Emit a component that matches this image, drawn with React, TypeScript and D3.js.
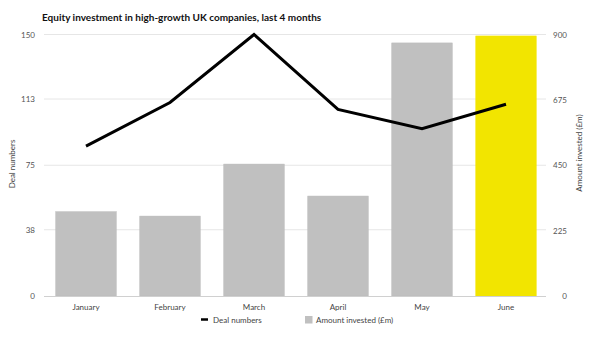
import React from "react";
import * as d3 from "d3";

const months = ["January", "February", "March", "April", "May", "June"];
const amountInvested = [290, 275, 454, 344, 871, 895];
const dealNumbers = [86, 111, 150, 107, 96, 110];
const leftTicks = [0, 38, 75, 113, 150];
const rightTicks = [0, 225, 450, 675, 900];
const barColors = ["#c0c0c0", "#c0c0c0", "#c0c0c0", "#c0c0c0", "#c0c0c0", "#f2e500"];

const W = 600, H = 339;
const FONT = "'Source Sans Pro', Lato, 'Open Sans', sans-serif";

export default function App() {
  const x = d3.scaleBand<string>().domain(months).range([44, 548]).paddingInner(0.28).paddingOuter(0.14);
  const yL = d3.scaleLinear().domain([0, 150]).range([296, 34.5]);
  const yR = d3.scaleLinear().domain([0, 900]).range([296, 34.5]);
  const line = d3.line<number>()
    .x((_, i) => (x(months[i]) as number) + x.bandwidth() / 2)
    .y((d) => yL(d));

  return (
    <svg width={W} height={H} style={{ position: "absolute", left: 0, top: 0, fontFamily: FONT }}>
      <rect width={W} height={H} fill="#fff" />
      <text x={42} y={21} fontSize={10} fontWeight="bold" fill="#111">
        Equity investment in high-growth UK companies, last 4 months
      </text>
      {leftTicks.map((t) => (
        <g key={"g" + t}>
          {t !== 0 && <line x1={44} x2={546} y1={yL(t)} y2={yL(t)} stroke="#e6e6e6" strokeWidth={1} />}
          <text x={35} y={yL(t) + 3} fontSize={8} fill="#555" textAnchor="end">{t}</text>
        </g>
      ))}
      {rightTicks.map((t) => (
        <text key={"r" + t} x={567} y={yR(t) + 3} fontSize={8} fill="#555" textAnchor="end">{t}</text>
      ))}
      <text transform={`translate(15,164) rotate(-90)`} fontSize={8} fill="#444" textAnchor="middle">Deal numbers</text>
      <text transform={`translate(582,153) rotate(-90)`} fontSize={8} fill="#444" textAnchor="middle">Amount invested (£m)</text>
      {months.map((m, i) => (
        <rect key={m} x={x(m)} y={yR(amountInvested[i])} width={x.bandwidth()} height={296 - yR(amountInvested[i])}
          fill={barColors[i]} stroke={i === 5 ? "#f2e500" : "#b8b8b8"} strokeWidth={0.5} />
      ))}
      <line x1={44} x2={546} y1={296.5} y2={296.5} stroke="#d0d0d0" strokeWidth={1} />
      {months.map((m) => (
        <text key={"l" + m} x={(x(m) as number) + x.bandwidth() / 2} y={310} fontSize={8} fill="#444" textAnchor="middle">{m}</text>
      ))}
      <path d={line(dealNumbers) || ""} fill="none" stroke="#000" strokeWidth={3} />
      <line x1={201} x2={208} y1={319.5} y2={319.5} stroke="#000" strokeWidth={2.5} />
      <text x={213} y={322.5} fontSize={8} fill="#444">Deal numbers</text>
      <rect x={305} y={316} width={7.5} height={7.5} fill="#c0c0c0" />
      <text x={316} y={322.5} fontSize={8} fill="#444">Amount invested (£m)</text>
    </svg>
  );
}
